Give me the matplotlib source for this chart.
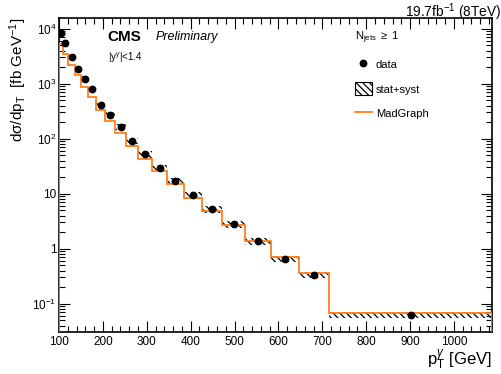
import matplotlib
matplotlib.use("Agg")
import matplotlib.pyplot as plt
import numpy as np
from matplotlib.patches import Rectangle, Patch
from matplotlib.lines import Line2D
from matplotlib.ticker import MultipleLocator, LogLocator, NullFormatter, FuncFormatter

plt.rcParams['font.family'] = ['Liberation Sans', 'DejaVu Sans']
plt.rcParams['mathtext.fontset'] = 'custom'
plt.rcParams['mathtext.rm'] = 'Liberation Sans'
plt.rcParams['mathtext.it'] = 'Liberation Sans:italic'
plt.rcParams['mathtext.sf'] = 'Liberation Sans'
plt.rcParams['hatch.linewidth'] = 0.9

# photon pT bin edges [GeV]
bin_edges = [100, 108, 121, 136, 151, 167, 185, 205, 228, 253, 281, 312,
             346, 384, 426, 472, 524, 583, 646, 716, 1086]
# measured cross section [fb/GeV]
data_xs = [8460, 5470, 3050, 1874, 1233, 787, 415, 265, 162, 90.4, 51.9,
           29.7, 16.9, 9.3, 5.2, 2.77, 1.36, 0.66, 0.336, 0.063]
# relative total (stat+syst) uncertainty
rel_unc = [0.13] * 20
# MadGraph prediction [fb/GeV]
mg_xs = [5340, 3510, 2210, 1413, 871, 560, 330, 205, 126, 73, 43,
         25.8, 14.8, 8.4, 4.8, 2.73, 1.37, 0.70, 0.36, 0.068]

edges = np.array(bin_edges, dtype=float)
centers = 0.5 * (edges[:-1] + edges[1:])
data = np.array(data_xs)
unc = np.array(rel_unc)

fig = plt.figure(figsize=(5.01, 3.74), dpi=100)
ax = fig.add_axes([0.1178, 0.1123, 0.8636, 0.8387])

orange = '#ff7f1e'

# uncertainty band
for lo, hi, v, u in zip(edges[:-1], edges[1:], data, unc):
    ax.add_patch(Rectangle((lo, v * (1 - u)), hi - lo, v * 2 * u,
                           facecolor='none', edgecolor='black', hatch='\\\\\\\\\\',
                           linewidth=0, zorder=2))

ax.stairs(mg_xs, edges, color=orange, lw=1.3, zorder=3)
ax.plot(centers, data, 'o', color='black', ms=4.6, zorder=4)

ax.set_yscale('log')
ax.set_xlim(100, 1086)
ax.set_ylim(0.0305, 15400)

ax.xaxis.set_major_locator(MultipleLocator(100))
ax.xaxis.set_minor_locator(MultipleLocator(20))
ax.yaxis.set_major_locator(LogLocator(base=10, numticks=20))
ax.yaxis.set_minor_locator(LogLocator(base=10, subs=np.arange(2, 10), numticks=100))
ax.yaxis.set_minor_formatter(NullFormatter())

def yfmt(v, pos):
    e = int(round(np.log10(v)))
    if e == 0:
        return '1'
    if e == 1:
        return '10'
    return r'10$^{%d}$' % e

ax.yaxis.set_major_formatter(FuncFormatter(yfmt))

ax.tick_params(which='both', direction='in', top=True, right=True, labelsize=8.5, width=0.8)
ax.tick_params(which='major', length=8)
ax.tick_params(which='minor', length=4)
ax.tick_params(axis='x', pad=3)
ax.tick_params(axis='y', pad=2)
for s in ax.spines.values():
    s.set_linewidth(1.2)

ax.set_xlabel(r'p$_{\mathrm{T}}^{\gamma}$ [GeV]', fontsize=12, loc='right', labelpad=0)
ax.set_ylabel(r'd$\mathrm{\sigma}$/dp$_{\mathrm{T}}$  [fb GeV$^{-1}$]', fontsize=11, loc='top', labelpad=2)

fig.text(0.215, 0.9, 'CMS', fontsize=11, fontweight='bold', va='center')
fig.text(0.31, 0.9, 'Preliminary', fontsize=9, style='italic', va='center')
fig.text(0.215, 0.845, r'|y$^{\gamma}$|<1.4', fontsize=7, va='center')
fig.text(0.999, 0.995, r'19.7fb$^{-1}$ (8TeV)', fontsize=9.8, ha='right', va='top')

handles = [Line2D([], [], marker='o', color='black', ls='none', ms=4.6),
           Patch(facecolor='none', edgecolor='black', hatch='\\\\\\\\\\', lw=0.8),
           Line2D([], [], color=orange, lw=1.3)]
leg = ax.legend(handles, ['data', 'stat+syst', 'MadGraph'],
                title=r'N$_{\rm jets}$ $\geq$ 1', loc='upper left',
                bbox_to_anchor=(0.66, 0.995), frameon=False, fontsize=8,
                title_fontsize=8, labelspacing=1.05, handlelength=1.6,
                handleheight=1.4, handletextpad=0.3, alignment='left')

fig.savefig('out.png', dpi=100)
